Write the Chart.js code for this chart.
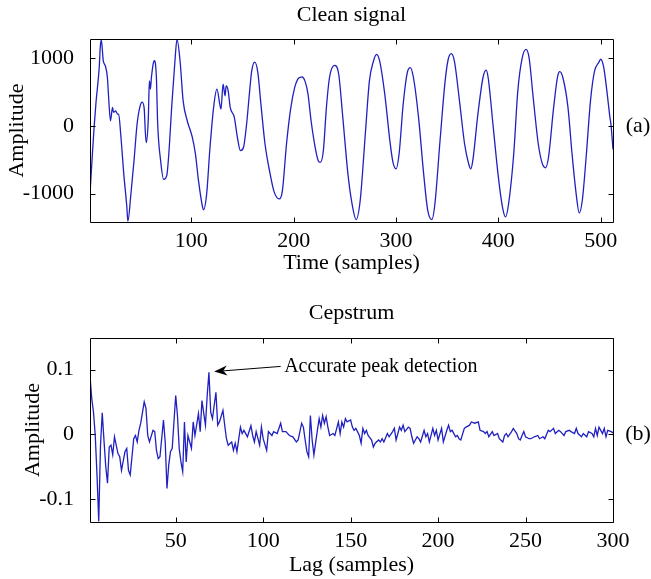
<!DOCTYPE html>
<html>
<head>
<meta charset="utf-8">
<title>Clean signal and cepstrum</title>
<script src="https://cdn.jsdelivr.net/npm/chart.js@4.4.0/dist/chart.umd.min.js"></script>
<style>
  body { margin: 0; background: #fff; }
  .panel { position: absolute; left: 0; }
</style>
</head>
<body>
<div class="panel" style="top:0"><canvas id="signalChart" width="651" height="290"></canvas></div>
<div class="panel" style="top:290px"><canvas id="cepstrumChart" width="651" height="289"></canvas></div>
<script>
// (a) clean signal
const timeSamples = [1, 3, 5, 7, 10, 11, 12, 14, 16, 18, 19, 21, 23, 24, 26, 28, 29, 31, 34, 37, 38, 41, 44, 47, 50, 52, 54, 55, 56, 58, 59, 60, 61, 63, 64, 65, 66, 67, 70, 73, 76, 78, 81, 84, 86, 89, 92, 96, 101, 104, 107, 111, 112, 115, 118, 122, 125, 128, 129, 131, 133, 134, 136, 138, 142, 145, 148, 151, 154, 157, 159, 162, 165, 168, 172, 177, 181, 186, 189, 193, 197, 201, 204, 206, 208, 211, 214, 217, 221, 224, 226, 229, 232, 235, 240, 244, 248, 253, 257, 261, 265, 270, 274, 278, 281, 284, 289, 294, 297, 300, 303, 307, 311, 314, 317, 322, 327, 331, 335, 338, 343, 348, 351, 354, 357, 362, 367, 371, 373, 375, 380, 385, 388, 390, 395, 400, 404, 407, 410, 415, 419, 423, 427, 430, 434, 439, 443, 446, 449, 454, 458, 460, 463, 468, 472, 476, 479, 482, 486, 490, 494, 498, 500, 503, 506, 509, 510, 512];
const cleanSignal = [-1000, -500, -24, 368, 859, 1153, 1270, 956, 882, 712, 466, 74, 271, 197, 221, 172, 172, -122, -710, -1200, -1410, -1004, -515, 25, 294, 350, 246, -74, -250, 124, 662, 540, 712, 932, 960, 907, 662, 74, -515, -790, -735, -416, 319, 956, 1275, 956, 368, 74, -171, -416, -809, -1200, -1240, -1004, -368, 300, 540, 300, 246, 613, 441, 588, 515, 271, 124, -171, -368, -318, 25, 515, 809, 940, 785, 319, -269, -710, -979, -1080, -956, -269, 246, 565, 687, 712, 721, 662, 466, 74, -318, -515, -540, -368, 271, 712, 890, 760, 124, -710, -1150, -1385, -1103, -122, 662, 956, 1054, 956, 466, -221, -538, -637, -416, 319, 785, 859, 712, 124, -710, -1250, -1385, -1151, -221, 662, 981, 1065, 956, 368, -269, -563, -637, -515, 172, 712, 820, 712, -24, -759, -1200, -1345, -1151, -416, 515, 981, 1128, 1006, 418, -269, -563, -620, -465, 271, 735, 800, 712, 271, -416, -1004, -1285, -1103, -416, 368, 809, 932, 981, 859, 515, 124, 20, -350];
const timeTicks = [100, 200, 300, 400, 500];
const signalTicks = [-1000, 0, 1000];

// (b) cepstrum, values
const lagSamples = [1, 2, 3, 4, 5, 6, 7, 8, 9, 10, 11, 12, 13, 14, 15, 17, 18, 19, 21, 22, 23, 24, 26, 27, 28, 29, 30, 32, 33, 34, 35, 37, 38, 39, 40, 41, 43, 44, 45, 46, 47, 48, 50, 51, 52, 53, 54, 55, 56, 57, 59, 60, 61, 63, 64, 65, 67, 68, 69, 70, 71, 73, 74, 75, 77, 78, 79, 80, 82, 83, 84, 85, 87, 88, 89, 91, 93, 94, 95, 96, 98, 99, 100, 102, 103, 105, 106, 108, 110, 111, 113, 115, 117, 119, 120, 122, 123, 124, 125, 126, 127, 128, 129, 131, 132, 133, 134, 135, 136, 137, 138, 140, 141, 143, 144, 145, 146, 147, 148, 150, 151, 152, 153, 155, 156, 157, 158, 159, 160, 162, 163, 164, 166, 167, 168, 169, 171, 172, 174, 175, 176, 178, 179, 180, 181, 183, 184, 185, 186, 188, 189, 190, 192, 193, 194, 195, 197, 198, 199, 200, 202, 203, 205, 206, 207, 208, 210, 211, 212, 213, 215, 216, 218, 219, 221, 223, 224, 226, 227, 228, 229, 231, 232, 234, 235, 237, 238, 239, 240, 242, 243, 245, 246, 247, 248, 249, 250, 252, 253, 255, 257, 258, 260, 261, 263, 264, 266, 267, 269, 270, 272, 273, 275, 276, 278, 279, 280, 282, 283, 285, 286, 288, 289, 290, 291, 292, 294, 295, 296, 297, 299, 300];
const cepstrum = [0.09, 0.055, 0.034, -0.002, -0.063, -0.135, -0.017, 0.033, -0.01, -0.05, -0.076, -0.02, -0.017, -0.032, -0.004, -0.03, -0.035, -0.056, -0.027, -0.022, -0.056, -0.063, -0.007, -0.002, -0.012, 0.006, 0.017, 0.05, 0.04, -0.002, -0.012, 0.006, 0.004, -0.025, -0.038, -0.035, 0.022, -0.012, -0.084, -0.048, -0.027, -0.022, 0.06, 0.029, -0.022, -0.043, -0.058, 0.019, -0.043, -0.002, -0.022, 0.019, -0.002, 0.032, 0.004, 0.052, 0.014, 0.06, 0.096, 0.034, 0.024, 0.065, 0.014, 0.019, 0.037, 0.014, -0.007, -0.017, -0.012, -0.025, -0.014, -0.027, 0.011, 0.001, 0.006, -0.004, 0.013, -0.002, -0.012, 0.004, -0.017, 0.011, -0.007, -0.025, 0.004, -0.002, 0.004, 0.001, 0.017, 0.004, 0.004, -0.002, -0.004, -0.012, -0.009, 0.017, 0.011, -0.009, -0.027, -0.035, 0.029, -0.009, -0.032, 0.006, 0.024, 0.011, 0.029, 0.017, 0.027, 0.011, -0.002, 0.001, -0.002, 0.019, 0.001, 0.019, 0.011, 0.024, 0.019, 0.022, 0.011, 0.006, 0.009, -0.002, -0.014, 0.009, 0.001, 0.006, -0.002, -0.009, -0.02, -0.014, -0.009, -0.012, -0.007, -0.012, 0.001, -0.004, 0.004, 0.009, -0.009, 0.011, 0.006, 0.014, 0.004, 0.011, 0.009, -0.004, -0.014, -0.004, -0.007, -0.012, 0.006, -0.004, 0.001, -0.012, 0.009, -0.002, 0.006, -0.009, 0.009, -0.012, 0.006, 0.014, 0.004, 0.006, -0.004, -0.002, -0.007, -0.009, 0.009, 0.011, 0.014, 0.019, 0.017, 0.019, 0.006, 0.004, 0.001, 0.004, -0.004, 0.004, -0.002, 0.001, -0.007, -0.012, -0.002, 0.001, -0.004, 0.004, 0.009, 0.001, -0.007, -0.009, -0.002, 0.004, -0.004, -0.007, -0.007, -0.004, -0.002, -0.007, -0.004, -0.007, 0.006, 0.004, 0.009, 0.001, 0.006, 0.004, -0.002, 0.004, 0.006, 0.004, 0.001, 0.009, 0.001, -0.004, 0.001, -0.004, 0.004, 0.001, -0.004, 0.009, -0.002, 0.011, 0.001, 0.009, -0.004, 0.006, 0.004, 0.002];
const lagTicks = [50, 100, 150, 200, 250, 300];
const cepstrumTicks = [-0.1, 0, 0.1];

const FONT = '"Liberation Serif", "Times New Roman", serif';
const LINE_COLOR = '#2020c0';

Chart.defaults.font.family = FONT;
Chart.defaults.font.size = 22;
Chart.defaults.color = '#000';

// box, inward ticks on all four sides, panel letter, optional arrow note
const axesBoxPlugin = {
    id: 'axesBox',
    afterDraw(chart, args, opts) {
        const ctx = chart.ctx;
        const a = chart.chartArea;
        const xs = chart.scales.x, ys = chart.scales.y;
        const l = Math.round(a.left) + 0.5, r = Math.round(a.right) + 0.5;
        const t = Math.round(a.top) + 0.5, b = Math.round(a.bottom) + 0.5;
        ctx.save();
        ctx.strokeStyle = '#000';
        ctx.lineWidth = 1;
        ctx.beginPath();
        ctx.rect(l, t, r - l, b - t);
        xs.ticks.forEach(tk => {
            const px = Math.round(xs.getPixelForValue(tk.value)) + 0.5;
            ctx.moveTo(px, b); ctx.lineTo(px, b - 5);
            ctx.moveTo(px, t); ctx.lineTo(px, t + 5);
        });
        ys.ticks.forEach(tk => {
            const py = Math.round(ys.getPixelForValue(tk.value)) + 0.5;
            ctx.moveTo(l, py); ctx.lineTo(l + 5, py);
            ctx.moveTo(r, py); ctx.lineTo(r - 5, py);
        });
        ctx.stroke();

        // panel letter
        ctx.fillStyle = '#000';
        ctx.font = '22px ' + FONT;
        ctx.textAlign = 'center';
        ctx.textBaseline = 'middle';
        ctx.fillText(opts.letter, a.right + 25, ys.getPixelForValue(0));

        if (opts.note) {
            const n = opts.note;
            const tipX = xs.getPixelForValue(n.tip[0]), tipY = ys.getPixelForValue(n.tip[1]);
            const tailX = xs.getPixelForValue(n.tail[0]), tailY = ys.getPixelForValue(n.tail[1]);
            const ang = Math.atan2(tipY - tailY, tipX - tailX);
            const c = Math.cos(ang), s = Math.sin(ang);
            const len = 13, half = 5;
            ctx.beginPath();
            ctx.moveTo(tailX, tailY);
            ctx.lineTo(tipX - len * 0.7 * c, tipY - len * 0.7 * s);
            ctx.stroke();
            ctx.beginPath();
            ctx.moveTo(tipX, tipY);
            ctx.lineTo(tipX - len * c + half * s, tipY - len * s - half * c);
            ctx.lineTo(tipX - len * 0.7 * c, tipY - len * 0.7 * s);
            ctx.lineTo(tipX - len * c - half * s, tipY - len * s + half * c);
            ctx.closePath();
            ctx.fill();
            ctx.font = '20px ' + FONT;
            ctx.textAlign = 'left';
            ctx.fillText(n.text, xs.getPixelForValue(n.textAt[0]), ys.getPixelForValue(n.textAt[1]));
        }
        ctx.restore();
    }
};

function makePanel(canvasId, p) {
    const ctx = document.getElementById(canvasId).getContext('2d');
    return new Chart(ctx, {
        type: 'line',
        data: {
            datasets: [{
                data: p.xs.map((x, i) => ({ x: x, y: p.ys[i] })),
                borderColor: LINE_COLOR,
                borderWidth: 1.3,
                pointRadius: 0,
                tension: p.smooth ? 0.4 : 0,
                cubicInterpolationMode: p.smooth ? 'monotone' : 'default'
            }]
        },
        options: {
            responsive: false,
            animation: false,
            layout: { padding: { top: 0, right: 38, bottom: 0, left: 0 } },
            plugins: {
                legend: { display: false },
                tooltip: { enabled: false },
                title: {
                    display: true,
                    text: p.title,
                    fullSize: false,
                    color: '#000',
                    font: { size: 22, weight: 'normal' },
                    padding: p.titlePad
                },
                axesBox: { letter: p.letter, note: p.note }
            },
            scales: {
                x: {
                    type: 'linear',
                    min: p.xMin, max: p.xMax,
                    grid: { display: false },
                    border: { display: false },
                    ticks: { padding: -2, maxRotation: 0, autoSkip: false, callback: v => String(v) },
                    afterBuildTicks: sc => { sc.ticks = p.xTicks.map(v => ({ value: v })); },
                    afterFit: sc => { sc.height = p.xAxisHeight; },
                    title: { display: true, text: p.xTitle, padding: { top: 0, bottom: p.xTitlePad } }
                },
                y: {
                    type: 'linear',
                    min: p.yMin, max: p.yMax,
                    grid: { display: false },
                    border: { display: false },
                    ticks: { padding: 8, autoSkip: false, callback: v => String(v) },
                    afterBuildTicks: sc => { sc.ticks = p.yTicks.map(v => ({ value: v })); },
                    afterFit: sc => { sc.width = 90; },
                    title: { display: true, text: 'Amplitude', padding: { top: p.yTitlePad, bottom: 0 } }
                }
            }
        },
        plugins: [axesBoxPlugin]
    });
}

document.addEventListener("DOMContentLoaded", function() {
    makePanel('signalChart', {
        xs: timeSamples, ys: cleanSignal, smooth: true,
        title: 'Clean signal', titlePad: { top: 1.8, bottom: 10.8 },
        xTitle: 'Time (samples)', xTitlePad: 13.8, xAxisHeight: 68,
        xMin: 1, xMax: 512, xTicks: timeTicks,
        yMin: -1420, yMax: 1280, yTicks: signalTicks, yTitlePad: 3.8,
        letter: '(a)'
    });
    makePanel('cepstrumChart', {
        xs: lagSamples, ys: cepstrum, smooth: false,
        title: 'Cepstrum', titlePad: { top: 9.8, bottom: 11.8 },
        xTitle: 'Lag (samples)', xTitlePad: 0.8, xAxisHeight: 57,
        xMin: 1, xMax: 300, xTicks: lagTicks,
        yMin: -0.136, yMax: 0.149, yTicks: cepstrumTicks, yTitlePad: 19.8,
        letter: '(b)',
        note: { text: 'Accurate peak detection', tip: [72, 0.097], tail: [110, 0.105], textAt: [112, 0.104] }
    });
});
</script>
</body>
</html>
